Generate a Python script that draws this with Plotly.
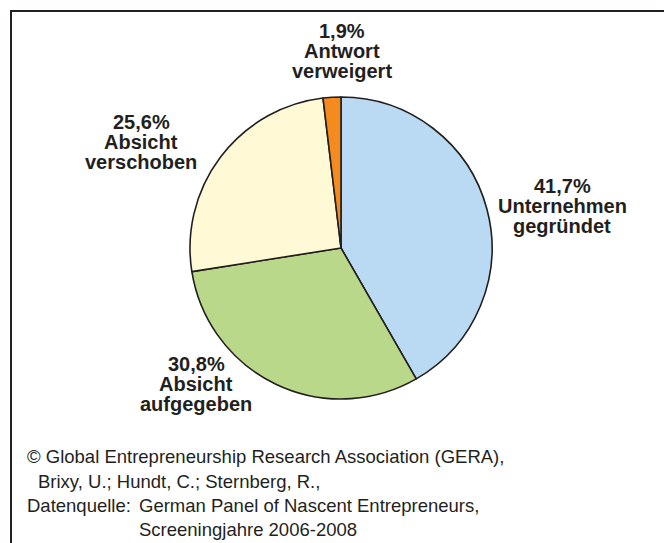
import plotly.graph_objects as go

# shares of nascent entrepreneurs by outcome (clockwise from top)
categories = ["Unternehmen gegründet", "Absicht aufgegeben", "Absicht verschoben", "Antwort verweigert"]
shares = [41.7, 30.8, 25.6, 1.9]
label_lines = [["Unternehmen", "gegründet"], ["Absicht", "aufgegeben"], ["Absicht", "verschoben"], ["Antwort", "verweigert"]]
colors = ["#B9DAF2", "#BAD88A", "#FFF9D6", "#F58A1F"]

footer_lines = [
    "© Global Entrepreneurship Research Association (GERA),",
    "Brixy, U.; Hundt, C.; Sternberg, R.,",
]
source_label = "Datenquelle:"
source_lines = ["German Panel of Nascent Entrepreneurs,", "Screeningjahre 2006-2008"]

# the page puts the figure 8px in from the window corner
OFF = 8
W, H = 672, 543


def px(x):
    return (x - OFF) / W


def py(y):
    return 1 - (y - OFF) / H


# centre of each label block (window pixels)
label_centres = [(562, 206), (196, 384), (141, 142), (342, 51)]
line_gap = 20

fig = go.Figure()
fig.add_trace(go.Pie(
    labels=categories,
    values=shares,
    sort=False,
    direction="clockwise",
    rotation=0,
    textinfo="none",
    hoverinfo="label+percent",
    marker=dict(colors=colors, line=dict(color="#231F20", width=1.6)),
    domain=dict(x=[px(190), px(492)], y=[py(399), py(97)]),
    showlegend=False,
))

label_font = dict(family="Liberation Sans, Arial", size=20, color="#231F20")
for val, lines, (cx, cy) in zip(shares, label_lines, label_centres):
    rows = [f"{val:.1f}%".replace(".", ",")] + lines
    for i, row in enumerate(rows):
        fig.add_annotation(x=px(cx), y=py(cy + (i - 1) * line_gap), xref="paper", yref="paper",
                           text=f"<b>{row}</b>", showarrow=False, xanchor="center", yanchor="middle",
                           font=label_font)

footer_font = dict(family="Liberation Sans, Arial", size=18.5, color="#231F20")
fig.add_annotation(x=px(25), y=py(456), xref="paper", yref="paper", xanchor="left", yanchor="middle",
                   text=footer_lines[0], showarrow=False, font=footer_font)
fig.add_annotation(x=px(36), y=py(481), xref="paper", yref="paper", xanchor="left", yanchor="middle",
                   text=footer_lines[1], showarrow=False, font=footer_font)
fig.add_annotation(x=px(25), y=py(505), xref="paper", yref="paper", xanchor="left", yanchor="middle",
                   text=source_label, showarrow=False, font=footer_font)
fig.add_annotation(x=px(137), y=py(505), xref="paper", yref="paper", xanchor="left", yanchor="middle",
                   text=source_lines[0], showarrow=False, font=footer_font)
fig.add_annotation(x=px(137), y=py(529), xref="paper", yref="paper", xanchor="left", yanchor="middle",
                   text=source_lines[1], showarrow=False, font=footer_font)

# frame around the whole chart (bottom edge runs off the window)
fig.add_shape(type="rect", xref="paper", yref="paper", x0=px(11), x1=px(667), y0=-0.1, y1=py(11),
              line=dict(color="#231F20", width=2))

fig.update_layout(
    width=W, height=H,
    margin=dict(l=0, r=0, t=0, b=0),
    paper_bgcolor="white",
    plot_bgcolor="white",
)

fig.write_html("out.html")
